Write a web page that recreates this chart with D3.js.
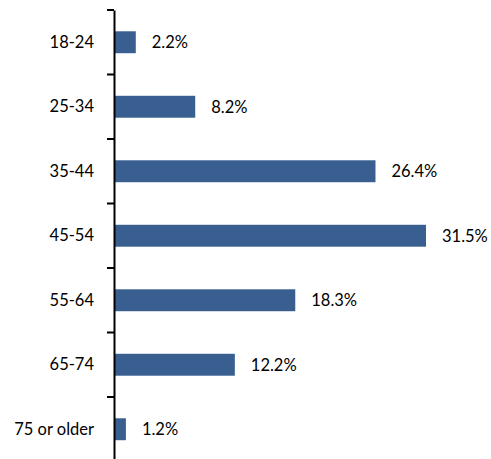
<!DOCTYPE html>
<html>
<head>
<meta charset="utf-8">
<script src="https://cdn.jsdelivr.net/npm/d3@7"></script>
<style>
  body { margin: 0; background: #fff; }
  svg text { font-family: "Lato", "Open Sans", sans-serif; font-size: 16.5px; fill: #000; }
</style>
</head>
<body>
<script>
/* data */
var categories = ['18-24', '25-34', '35-44', '45-54', '55-64', '65-74', '75 or older'];
var shares = [2.2, 8.2, 26.4, 31.5, 18.3, 12.2, 1.2];

var svg = d3.select('body').append('svg')
  .attr('width', 491)
  .attr('height', 459);

var x = d3.scaleLinear()
  .domain([0, 31.5])
  .range([114, 426]);

var y = d3.scaleBand()
  .domain(categories)
  .range([10, 461.5])
  .paddingInner(0.66)
  .paddingOuter(0.33);

/* bars */
svg.selectAll('rect.bar')
  .data(shares)
  .enter().append('rect')
  .attr('class', 'bar')
  .attr('x', x(0))
  .attr('y', function (d, i) { return y(categories[i]); })
  .attr('width', function (d) { return x(d) - x(0); })
  .attr('height', y.bandwidth())
  .attr('fill', '#385F8F');

/* value labels */
svg.selectAll('text.val')
  .data(shares)
  .enter().append('text')
  .attr('class', 'val')
  .attr('x', function (d) { return x(d) + 16; })
  .attr('y', function (d, i) { return y(categories[i]) + y.bandwidth() / 2; })
  .attr('dy', '0.35em')
  .text(function (d) { return d.toFixed(1) + '%'; });

/* axis */
var axis = d3.axisLeft(y).tickSize(0).tickPadding(20);
var g = svg.append('g')
  .attr('transform', 'translate(114,0)')
  .call(axis);
g.select('.domain').attr('stroke', '#000').attr('stroke-width', 2);
g.selectAll('.tick text').style('font-size', '16.5px').attr('fill', '#000');

/* band separators */
var edges = categories.map(function (c) { return y(c) - y.step() * y.paddingInner() / 2; });
edges.push(461.5);
g.selectAll('line.sep')
  .data(edges)
  .enter().append('line')
  .attr('class', 'sep')
  .attr('x1', -7)
  .attr('x2', 0)
  .attr('y1', function (d) { return d; })
  .attr('y2', function (d) { return d; })
  .attr('stroke', '#000')
  .attr('stroke-width', 2);
</script>
</body>
</html>
